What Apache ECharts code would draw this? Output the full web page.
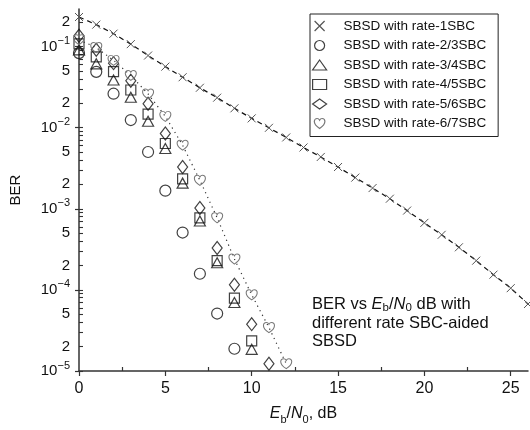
<!DOCTYPE html>
<html><head><meta charset="utf-8">
<script src="https://cdn.jsdelivr.net/npm/echarts@6/dist/echarts.min.js"></script>
<style>html,body{margin:0;padding:0;background:#fff}#c{width:530px;height:430px}</style>
</head><body><div id="c"></div>
<script>
// ---- data (BER) ----
const ebn0Rate1 = [0,1,2,3,4,5,6,7,8,9,10,11,12,13,14,15,16,17,18,19,20,21,22,23,24,25,26];
const berRate1 = [0.231,0.186,0.144,0.107,0.0774,0.0565,0.0418,0.0310,0.0234,0.0173,0.0130,0.00995,0.00757,0.00569,0.00435,0.00327,0.00242,0.00180,0.00133,0.00095,0.00067,0.000477,0.000335,0.000229,0.000154,0.000105,0.000067];
const ebn0Coded = [0,1,2,3,4,5,6,7,8,9,10,11,12];
const berRate23 = [0.0829,0.0487,0.0262,0.0124,0.00501,0.00167,0.000509,0.000158,0.0000511,0.0000188];
const berRate34 = [0.091,0.0611,0.0387,0.0237,0.0120,0.00553,0.00207,0.000706,0.000216,0.0000698,0.0000185];
const berRate45 = [0.108,0.0746,0.0491,0.0291,0.0147,0.00637,0.00234,0.000774,0.000229,0.0000792,0.0000235];
const berRate56 = [0.1355,0.091,0.0624,0.0379,0.0197,0.00848,0.00327,0.00102,0.000329,0.0001156,0.0000378,0.0000123];
const berRate67 = [0.121,0.097,0.0675,0.0440,0.0260,0.01377,0.00607,0.00224,0.000774,0.000240,0.0000869,0.0000343,0.0000123];
const seriesNames = ['SBSD with rate-1SBC','SBSD with rate-2/3SBC','SBSD with rate-3/4SBC','SBSD with rate-4/5SBC','SBSD with rate-5/6SBC','SBSD with rate-6/7SBC'];
const xMinorTicks = [2.5,7.5,12.5,17.5,22.5];
const yExponents = [-5,-4,-3,-2,-1];
const yLabelMantissas = [2,5];
const yMinorMantissas = [2,3,4,5,6,7,8,9];
const yTop = 0.29;

// ---- helpers ----
const lg = v => Math.log10(v);
const pts = (xs, ys) => ys.map((y, i) => [xs[i], lg(y)]);
const yMin = -5, yMax = lg(yTop);
const inRange = v => v >= yMin - 1e-9 && v <= yMax + 1e-9;
const decadeVals = yExponents.slice();
const labelVals = decadeVals.concat(...yExponents.map(e => yLabelMantissas.map(m => e + lg(m)))).filter(inRange);
const minorVals = [];
yExponents.forEach(e => yMinorMantissas.forEach(m => minorVals.push(e + lg(m))));
decadeVals.forEach(e => minorVals.push(e));
const minorIn = minorVals.filter(inRange);

const crossPath = 'path://M0,0L10,10M10,0L0,10';
const heartPath = 'path://M10,18C10,18 1,12 1,6.2C1,3.2 3.2,1 5.8,1C7.8,1 9.2,2.4 10,4C10.8,2.4 12.2,1 14.2,1C16.8,1 19,3.2 19,6.2C19,12 10,18 10,18Z';
const symbols = [crossPath, 'circle', 'triangle', 'rect', 'diamond', heartPath];
const symSizes = [8, 11, [11,10], 10, [10,13], [11,10]];
const strokeCols = ['#555', '#111', '#111', '#111', '#111', '#777'];

const axisFont = 'Liberation Sans, Arial, sans-serif';

const chart = echarts.init(document.getElementById('c'), null, {renderer: 'canvas'});
const option = {
  animation: false,
  backgroundColor: '#fff',
  grid: {left: 79, right: 2, top: 9, bottom: 59},
  xAxis: [{
    type: 'value', min: 0, max: 26, interval: 5, position: 'bottom',
    axisLine: {show: true, lineStyle: {color: '#333', width: 1.5}},
    axisTick: {show: true, inside: false, length: 5, lineStyle: {color: '#333', width: 1.2}},
    axisLabel: {color: '#111', fontSize: 16, fontFamily: axisFont, margin: 10},
    splitLine: {show: false},
    name: '{i|E}{sub|b}{n|/}{i|N}{sub|0}{n|, dB}',
    nameLocation: 'middle', nameGap: 32,
    nameTextStyle: {
      fontFamily: axisFont, color: '#111',
      rich: {
        i: {fontSize: 16, fontStyle: 'italic', fontFamily: axisFont, color: '#111', lineHeight: 22, verticalAlign: 'middle'},
        n: {fontSize: 16, fontFamily: axisFont, color: '#111', lineHeight: 22, verticalAlign: 'middle'},
        sub: {fontSize: 11, fontFamily: axisFont, color: '#111', lineHeight: 11, verticalAlign: 'bottom'}
      }
    }
  }, {
    type: 'value', min: 0, max: 26, position: 'bottom',
    axisLine: {show: false, onZero: false},
    axisTick: {show: true, inside: true, length: 4, customValues: xMinorTicks, lineStyle: {color: '#333', width: 1.2}},
    axisLabel: {show: false},
    splitLine: {show: false}
  }],
  yAxis: [{
    type: 'value', min: yMin, max: yMax, position: 'left',
    axisLine: {show: true, onZero: false, lineStyle: {color: '#333', width: 1.5}},
    axisTick: {show: true, inside: false, length: 4, customValues: decadeVals, lineStyle: {color: '#333', width: 1.2}},
    axisLabel: {
      customValues: labelVals, margin: 9, fontFamily: axisFont, color: '#111',
      formatter: v => {
        const e = Math.round(v);
        if (Math.abs(v - e) < 1e-6) return '{b|10}{s|\u2212' + (-e) + '}';
        const m = Math.round(Math.pow(10, v - Math.floor(v)));
        return '{b|' + m + '}';
      },
      rich: {
        b: {fontSize: 15, fontFamily: axisFont, color: '#111', lineHeight: 22, verticalAlign: 'middle'},
        s: {fontSize: 11, fontFamily: axisFont, color: '#111', lineHeight: 12, verticalAlign: 'top'}
      }
    },
    splitLine: {show: false},
    name: 'BER', nameLocation: 'middle', nameGap: 56,
    nameTextStyle: {fontSize: 15, fontFamily: axisFont, color: '#111'}
  }, {
    type: 'value', min: yMin, max: yMax, position: 'left',
    axisLine: {show: false, onZero: false},
    axisTick: {show: true, inside: true, length: 4, customValues: minorIn, lineStyle: {color: '#333', width: 1.1}},
    axisLabel: {show: false},
    splitLine: {show: false}
  }],
  legend: {
    left: 310, top: 14, orient: 'vertical', selectedMode: false,
    backgroundColor: '#fff', borderColor: '#222', borderWidth: 1, borderRadius: 0,
    padding: [5, 12, 6, 2], itemGap: 5.5, itemWidth: 14, itemHeight: 10,
    textStyle: {fontSize: 13.5, fontFamily: axisFont, color: '#111', lineHeight: 13, padding: [0, 0, 0, 12]},
    data: seriesNames.map((n, i) => ({
      name: n, icon: symbols[i],
      itemStyle: {color: 'rgba(0,0,0,0)', borderColor: strokeCols[i], borderWidth: 1.2},
      lineStyle: {width: 0}
    }))
  },
  graphic: [{
    type: 'text', left: 312, top: 296, silent: true,
    style: {
      text: '{n|BER vs }{i|E}{sub|b}{n|/}{i|N}{sub|0}{n| dB with}\n{n|different rate SBC-aided}\n{n|SBSD}',
      fill: '#111',
      rich: {
        n: {fontSize: 16.5, fontFamily: axisFont, fill: '#111', lineHeight: 18.5, verticalAlign: 'middle'},
        i: {fontSize: 16.5, fontStyle: 'italic', fontFamily: axisFont, fill: '#111', lineHeight: 18.5, verticalAlign: 'middle'},
        sub: {fontSize: 11.5, fontFamily: axisFont, fill: '#111', lineHeight: 10, verticalAlign: 'bottom'}
      }
    }
  }],
  series: [
    {
      name: seriesNames[0], type: 'line', data: pts(ebn0Rate1, berRate1),
      symbol: symbols[0], symbolSize: symSizes[0], showSymbol: true,
      itemStyle: {color: 'rgba(0,0,0,0)', borderColor: strokeCols[0], borderWidth: 1},
      lineStyle: {color: '#111', width: 1.2, type: [5, 4]}, z: 3
    },
    {
      name: seriesNames[1], type: 'scatter', data: pts(ebn0Coded, berRate23),
      symbol: symbols[1], symbolSize: symSizes[1],
      itemStyle: {color: 'rgba(0,0,0,0)', borderColor: strokeCols[1], borderWidth: 1.2}
    },
    {
      name: seriesNames[2], type: 'scatter', data: pts(ebn0Coded, berRate34),
      symbol: symbols[2], symbolSize: symSizes[2],
      itemStyle: {color: 'rgba(0,0,0,0)', borderColor: strokeCols[2], borderWidth: 1.2}
    },
    {
      name: seriesNames[3], type: 'scatter', data: pts(ebn0Coded, berRate45),
      symbol: symbols[3], symbolSize: symSizes[3],
      itemStyle: {color: 'rgba(0,0,0,0)', borderColor: strokeCols[3], borderWidth: 1.2}
    },
    {
      name: seriesNames[4], type: 'scatter', data: pts(ebn0Coded, berRate56),
      symbol: symbols[4], symbolSize: symSizes[4],
      itemStyle: {color: 'rgba(0,0,0,0)', borderColor: strokeCols[4], borderWidth: 1.2}
    },
    {
      name: seriesNames[5], type: 'line', data: pts(ebn0Coded, berRate67),
      symbol: symbols[5], symbolSize: symSizes[5], showSymbol: true,
      itemStyle: {color: 'rgba(0,0,0,0)', borderColor: strokeCols[5], borderWidth: 1},
      lineStyle: {color: '#333', width: 1.2, type: [1.2, 4]}
    }
  ]
};
chart.setOption(option);
</script>
</body></html>
